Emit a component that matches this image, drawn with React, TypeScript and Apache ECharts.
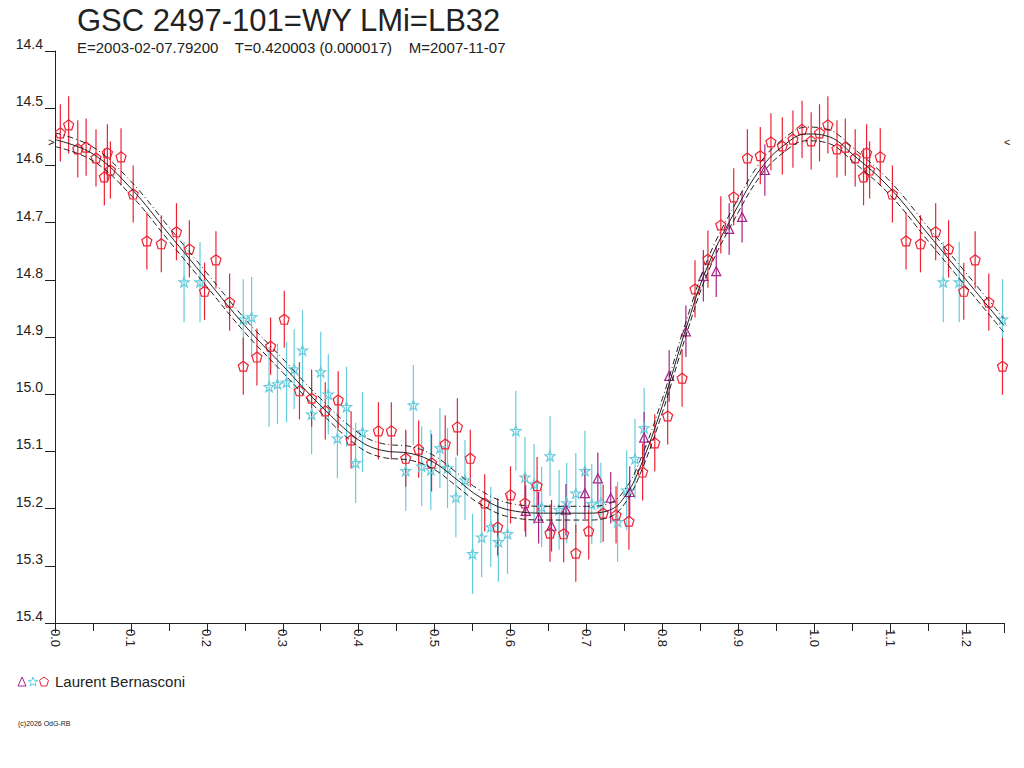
import React, { useEffect, useRef } from 'react';
import * as echarts from 'echarts';

// [phase, magnitude]
const redPoints: number[][] = [
  [0.007, 14.543], [0.018, 14.529], [0.030, 14.571], [0.041, 14.568], [0.054, 14.587],
  [0.065, 14.620], [0.069, 14.578], [0.073, 14.608], [0.087, 14.585], [0.103, 14.650],
  [0.121, 14.732], [0.140, 14.737], [0.160, 14.716], [0.177, 14.746], [0.197, 14.820],
  [0.212, 14.765], [0.230, 14.839], [0.248, 14.951], [0.266, 14.935], [0.284, 14.916],
  [0.302, 14.869], [0.322, 14.994], [0.338, 15.007], [0.356, 15.029], [0.373, 15.010],
  [0.390, 15.080], [0.426, 15.064], [0.443, 15.064], [0.462, 15.112], [0.479, 15.096],
  [0.496, 15.120], [0.514, 15.087], [0.530, 15.057], [0.547, 15.112], [0.566, 15.190],
  [0.583, 15.232], [0.600, 15.176], [0.619, 15.190], [0.635, 15.160], [0.652, 15.243],
  [0.670, 15.244], [0.686, 15.278], [0.703, 15.239], [0.722, 15.208], [0.739, 15.211],
  [0.756, 15.222], [0.774, 15.136], [0.790, 15.085], [0.807, 15.038], [0.826, 14.972],
  [0.843, 14.816], [0.860, 14.764], [0.877, 14.704], [0.894, 14.655], [0.912, 14.587],
  [0.929, 14.583], [0.943, 14.559], [0.958, 14.566], [0.972, 14.554], [0.984, 14.537],
  [0.996, 14.557],
];
const cyanPoints: number[][] = [
  [0.170, 14.804], [0.191, 14.804], [0.248, 14.869], [0.259, 14.865], [0.282, 14.987],
  [0.293, 14.982], [0.305, 14.979], [0.315, 14.956], [0.326, 14.923], [0.338, 15.035],
  [0.350, 14.961], [0.360, 15.000], [0.372, 15.077], [0.384, 15.022], [0.396, 15.120],
  [0.405, 15.066], [0.462, 15.134], [0.472, 15.019], [0.483, 15.126], [0.495, 15.132],
  [0.507, 15.094], [0.517, 15.129], [0.528, 15.180], [0.540, 15.150], [0.550, 15.279],
  [0.562, 15.250], [0.574, 15.232], [0.584, 15.258], [0.596, 15.244], [0.607, 15.064],
  [0.619, 15.145], [0.631, 15.157], [0.641, 15.197], [0.652, 15.108], [0.664, 15.202],
  [0.674, 15.190], [0.686, 15.173], [0.698, 15.134], [0.707, 15.192], [0.719, 15.190],
  [0.741, 15.223], [0.753, 15.168], [0.764, 15.113], [0.776, 15.059],
];
const purplePoints: number[][] = [
  [0.620, 15.204], [0.637, 15.216], [0.654, 15.230], [0.673, 15.202], [0.698, 15.173],
  [0.715, 15.147], [0.732, 15.181], [0.757, 15.171], [0.776, 15.076], [0.809, 14.968],
  [0.831, 14.890], [0.854, 14.793], [0.871, 14.785], [0.888, 14.711], [0.905, 14.690],
  [0.935, 14.608],
];
const redErr = 0.05;
const cyanErr = 0.07;
const purpleErr = 0.045;

// fitted light curve [phase, magnitude] and its uncertainty
const fitCurve: number[][] = [
  [0.0, 14.555], [0.05, 14.58], [0.1, 14.64], [0.15, 14.72], [0.2, 14.8], [0.25, 14.88],
  [0.3, 14.95], [0.35, 15.02], [0.4, 15.08], [0.43, 15.098], [0.47, 15.104], [0.5, 15.12],
  [0.53, 15.15], [0.56, 15.18], [0.6, 15.203], [0.65, 15.208], [0.7, 15.208], [0.73, 15.203],
  [0.75, 15.18], [0.77, 15.13], [0.8, 15.02], [0.83, 14.89], [0.86, 14.775], [0.9, 14.67],
  [0.93, 14.605], [0.96, 14.565], [0.99, 14.545], [1.02, 14.55], [1.05, 14.58], [1.1, 14.64],
  [1.15, 14.72], [1.2, 14.8], [1.25, 14.88],
];
const fitSigma = 0.012;

const xTicks = { min: 0, max: 1.25, interval: 0.1 };
const yTicks = { min: 14.4, max: 15.4, interval: 0.1 };

const pentagon = 'path://M0,-10L9.5,-3.1L5.9,8.1L-5.9,8.1L-9.5,-3.1Z';
const star = 'path://M0,-10L2.4,-3.3L9.5,-3.1L3.8,1.2L5.9,8.1L0,4L-5.9,8.1L-3.8,1.2L-9.5,-3.1L-2.4,-3.3Z';

// points with phase below 0.25 are shown again one cycle later
const wrap = (pts: number[][]) => pts.concat(pts.filter(p => p[0] < 0.25).map(p => [p[0] + 1, p[1]]));

function errorBars(name: string, pts: number[][], err: number, color: string) {
  return {
    name: name + '-err',
    type: 'custom',
    data: wrap(pts),
    renderItem: (params: any, api: any) => {
      const x = api.value(0);
      const y = api.value(1);
      const a = api.coord([x, y - err]);
      const b = api.coord([x, y + err]);
      return {
        type: 'line',
        shape: { x1: a[0], y1: a[1], x2: b[0], y2: b[1] },
        style: { stroke: color, lineWidth: 1.2 },
      };
    },
    z: 2,
  };
}

function markers(name: string, pts: number[][], symbol: string, size: number, color: string) {
  return {
    name,
    type: 'scatter',
    data: wrap(pts),
    symbol,
    symbolSize: size,
    itemStyle: { color: 'rgba(0,0,0,0)', borderColor: color, borderWidth: 1.2, opacity: 1 },
    z: 3,
  };
}

export default function App() {
  const chartRef = useRef<HTMLDivElement>(null);

  useEffect(() => {
    if (!chartRef.current) return;
    const chart = echarts.init(chartRef.current, null, { renderer: 'svg' });
    const font = 'Liberation Sans, Arial, sans-serif';

    const upper = fitCurve.map(p => [p[0], p[1] - fitSigma]);
    const lower = fitCurve.map(p => [p[0], p[1] + fitSigma]);

    chart.setOption({
      animation: false,
      backgroundColor: '#fff',
      textStyle: { fontFamily: font },
      title: {
        text: 'GSC 2497-101=WY LMi=LB32',
        subtext: 'E=2003-02-07.79200    T=0.420003 (0.000017)    M=2007-11-07',
        left: 72,
        top: 0,
        itemGap: 4,
        textStyle: { fontSize: 31, fontWeight: 'normal', color: '#222', fontFamily: font },
        subtextStyle: { fontSize: 15, color: '#222', fontFamily: font },
      },
      grid: { left: 55, top: 51, right: 20, bottom: 145 },
      xAxis: {
        type: 'value',
        ...xTicks,
        axisLine: { onZero: false, lineStyle: { color: '#222' } },
        axisTick: { length: 10, lineStyle: { color: '#222' } },
        minorTick: { show: true, splitNumber: 2, length: 8, lineStyle: { color: '#222' } },
        splitLine: { show: false },
        axisLabel: {
          rotate: -90,
          color: '#222',
          fontSize: 13,
          margin: 6,
          showMaxLabel: false,
          formatter: (v: number) => v.toFixed(1),
          align: 'left',
        },
      },
      yAxis: {
        type: 'value',
        inverse: true,
        ...yTicks,
        axisLine: { show: true, lineStyle: { color: '#222' } },
        axisTick: { length: 10, lineStyle: { color: '#222' } },
        splitLine: { show: false },
        axisLabel: {
          color: '#222',
          fontSize: 14,
          margin: 12,
          verticalAlign: 'bottom',
          formatter: (v: number) => v.toFixed(1),
        },
      },
      series: [
        {
          name: 'fit',
          type: 'line',
          data: fitCurve,
          smooth: 0.4,
          showSymbol: false,
          lineStyle: { color: '#222', width: 1 },
          z: 4,
        },
        {
          name: 'upper',
          type: 'line',
          data: upper,
          smooth: 0.4,
          showSymbol: false,
          lineStyle: { color: '#222', width: 1, type: [6, 3, 1, 3] },
          z: 4,
        },
        {
          name: 'lower',
          type: 'line',
          data: lower,
          smooth: 0.4,
          showSymbol: false,
          lineStyle: { color: '#222', width: 1, type: [6, 3] },
          z: 4,
        },
        errorBars('cyan', cyanPoints, cyanErr, '#66ccdd'),
        errorBars('red', redPoints, redErr, '#ee2233'),
        errorBars('purple', purplePoints, purpleErr, '#aa2288'),
        markers('cyan', cyanPoints, star, 10, '#66ccdd'),
        markers('red', redPoints, pentagon, 10, '#ee2233'),
        markers('purple', purplePoints, 'triangle', 9, '#aa2288'),
      ],
      graphic: [
        { type: 'text', left: 48, top: 136, style: { text: '>', fontSize: 11, fill: '#222', fontFamily: font } },
        { type: 'text', left: 1004, top: 136, style: { text: '<', fontSize: 11, fill: '#222', fontFamily: font } },
        {
          type: 'polygon',
          shape: { points: [[22, 677], [26, 686], [18, 686]] },
          style: { fill: 'none', stroke: '#aa2288', lineWidth: 1 },
        },
        {
          type: 'polygon',
          shape: { points: [[33, 677], [34.2, 680.3], [37.8, 680.5], [34.9, 682.6], [36, 686], [33, 684], [30, 686], [31.1, 682.6], [28.2, 680.5], [31.8, 680.3]] },
          style: { fill: 'none', stroke: '#66ccdd', lineWidth: 1 },
        },
        {
          type: 'polygon',
          shape: { points: [[44, 677], [48.5, 680.3], [46.8, 686], [41.2, 686], [39.5, 680.3]] },
          style: { fill: 'none', stroke: '#ee2233', lineWidth: 1 },
        },
        { type: 'text', left: 55, top: 674, style: { text: 'Laurent Bernasconi', fontSize: 15, fill: '#222', fontFamily: font } },
        { type: 'text', left: 18, top: 720, style: { text: '(c)2026 OdG-RB', fontSize: 7, fill: '#222', fontFamily: font } },
      ],
    });

    return () => {
      chart.dispose();
    };
  }, []);

  return (
    <div style={{ position: 'absolute', left: 0, top: 0, width: 1024, height: 768, background: '#fff' }}>
      <div ref={chartRef} style={{ width: 1024, height: 768 }} />
    </div>
  );
}
